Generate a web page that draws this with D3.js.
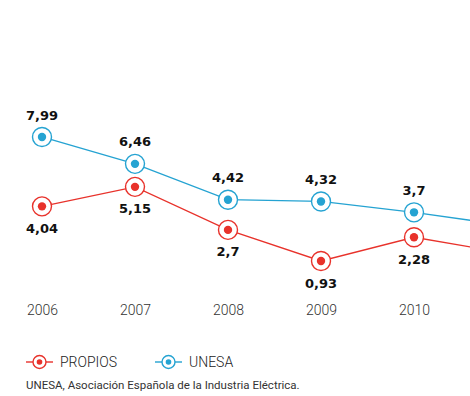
<!DOCTYPE html>
<html>
<head>
<meta charset="utf-8">
<script src="https://cdn.jsdelivr.net/npm/d3@7"></script>
<style>
  html, body { margin: 0; padding: 0; background: #fff; }
  svg { display: block; }
</style>
</head>
<body>
<svg id="chart" width="470" height="396"></svg>
<script>
// Years on the x axis (the last one runs past the right edge)
const years = ["2006", "2007", "2008", "2009", "2010", "2011"];
// Series values
const propios = [4.04, 5.15, 2.7, 0.93, 2.28, 1.37];
const unesa   = [7.99, 6.46, 4.42, 4.32, 3.7, 2.95];
const seriesNames = ["PROPIOS", "UNESA"];
const seriesColors = ["#e8322b", "#25a3d2"];
const footnote = "UNESA, Asociación Española de la Industria Eléctrica.";

const fmt = v => String(v).replace(".", ",");
const W = 470;

const svg = d3.select("#chart");

const x = d3.scalePoint()
  .domain(years)
  .range([42, 507]);

const y = d3.scaleLinear()
  .domain([0, 8])
  .range([277.3, 277.3 - 17.56 * 8]);

// only the years that fall inside the view get labels and markers
const shown = years.filter(yr => x(yr) < W);

// x axis labels only
const xAxis = d3.axisBottom(x).tickValues(shown).tickSize(0).tickPadding(0);
const gx = svg.append("g")
  .attr("transform", "translate(0,305)")
  .call(xAxis);
gx.select(".domain").remove();
gx.selectAll("text")
  .attr("font-family", "Roboto, 'Noto Sans', sans-serif")
  .attr("font-size", 14)
  .attr("font-weight", 300)
  .attr("fill", "#333")
  .attr("dy", "0.71em");

const series = [
  { name: seriesNames[0], values: propios, color: seriesColors[0], above: false },
  { name: seriesNames[1], values: unesa,   color: seriesColors[1], above: true }
];

const line = d3.line()
  .x((d, i) => x(years[i]))
  .y(d => y(d));

series.forEach(s => {
  const g = svg.append("g");
  g.append("path")
    .datum(s.values)
    .attr("d", line)
    .attr("fill", "none")
    .attr("stroke", s.color)
    .attr("stroke-width", 1.3);

  const pts = g.selectAll("g.pt")
    .data(s.values.map((v, i) => ({ v, yr: years[i] })).filter(d => x(d.yr) < W))
    .join("g")
    .attr("class", "pt")
    .attr("transform", d => `translate(${x(d.yr)},${y(d.v)})`);

  pts.append("circle")
    .attr("r", 9.5)
    .attr("fill", "#fff")
    .attr("stroke", s.color)
    .attr("stroke-width", 1.4);
  pts.append("circle")
    .attr("r", 4.2)
    .attr("fill", s.color);

  pts.append("text")
    .attr("text-anchor", "middle")
    .attr("y", s.above ? -22 : 22)
    .attr("dy", "0.35em")
    .attr("font-family", "'DejaVu Sans', sans-serif")
    .attr("font-weight", "bold")
    .attr("font-size", 13)
    .attr("fill", "#111")
    .text(d => fmt(d.v));
});

// Legend
const legend = svg.append("g").attr("transform", "translate(0,362)");
const legendX = [26, 155];
series.forEach((s, i) => {
  const lg = legend.append("g").attr("transform", `translate(${legendX[i]},0)`);
  lg.append("line")
    .attr("x1", 0).attr("x2", 27)
    .attr("stroke", s.color).attr("stroke-width", 1.4);
  lg.append("circle")
    .attr("cx", 13.5).attr("r", 6.5)
    .attr("fill", "#fff").attr("stroke", s.color).attr("stroke-width", 1.4);
  lg.append("circle")
    .attr("cx", 13.5).attr("r", 2.8)
    .attr("fill", s.color);
  lg.append("text")
    .attr("x", 34)
    .attr("dy", "0.35em")
    .attr("font-family", "Roboto, 'Noto Sans', sans-serif")
    .attr("font-size", 14)
    .attr("font-weight", 300)
    .attr("fill", "#222")
    .text(s.name);
});

svg.append("text")
  .attr("x", 26)
  .attr("y", 389)
  .attr("font-family", "Roboto, 'Noto Sans', sans-serif")
  .attr("font-size", 11.5)
  .attr("fill", "#333")
  .text(footnote);
</script>
</body>
</html>
